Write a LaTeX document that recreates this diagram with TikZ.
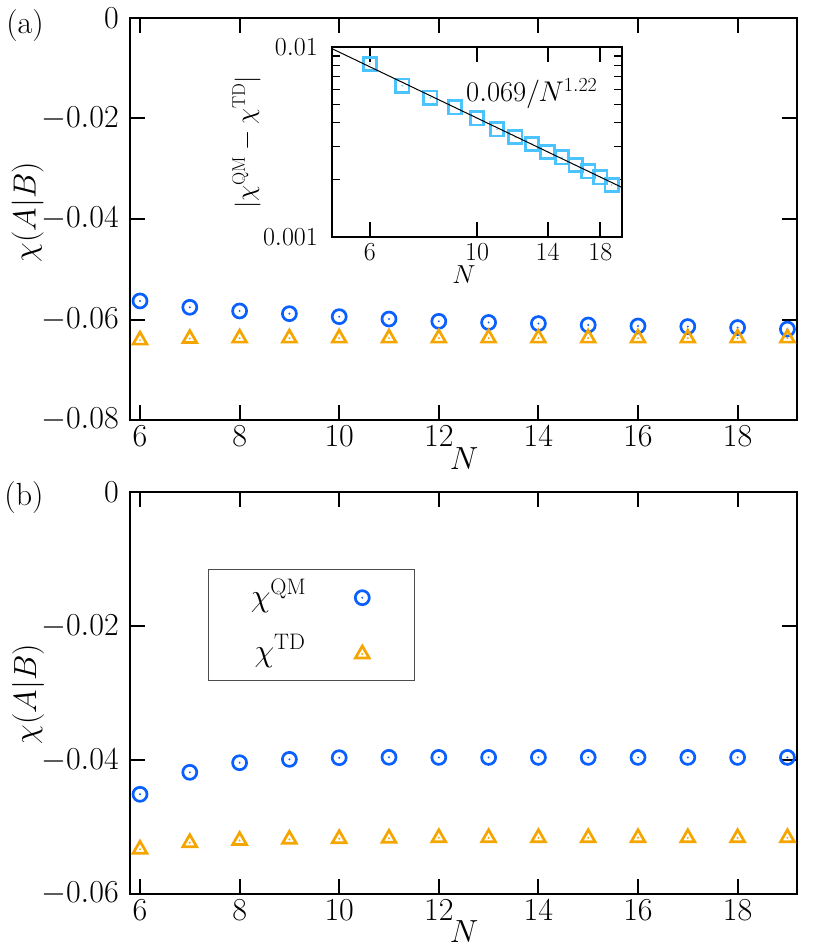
\RequirePackage{fix-cm}
\documentclass[tikz,border=0pt]{standalone}
\definecolor{qmblue}{RGB}{10,95,255}
\definecolor{tdorange}{RGB}{245,165,0}
\definecolor{sqblue}{RGB}{75,195,255}
\begin{document}
\begin{tikzpicture}[x=1pt,y=-1pt,font=\fontsize{32}{38}\selectfont,
  ax/.style={line width=2pt, black},
  tk/.style={line width=2pt, black},
  mtk/.style={line width=1.6pt, black},
  qmm/.style={circle, draw=qmblue, line width=2.7pt, minimum size=14pt, inner sep=0pt},
  sqm/.style={rectangle, draw=sqblue, line width=2.7pt, minimum size=13.5pt, inner sep=0pt},
  tdm/.style={draw=tdorange, line width=2.7pt, line join=miter},
  lab/.style={inner sep=0pt},
  insetfont/.style={font=\fontsize{26}{31}\selectfont}]
\useasboundingbox (0,0) rectangle (830,949);

% ================= panel (a) =================
\draw[ax] (130,18) rectangle (797.3,420);
\foreach \n in {6,8,...,18} {
  \pgfmathsetmacro\xx{140+49.8*(\n-6)}
  \draw[tk] (\xx,420) -- ++(0,-15);
  \draw[tk] (\xx,18) -- ++(0,15);
  \node[lab, anchor=north] (xa\n) at (\xx,426) {$\n$};
}
\foreach \v/\t in {0/0, 1/{-0.02}, 2/{-0.04}, 3/{-0.06}, 4/{-0.08}} {
  \pgfmathsetmacro\yy{18+100.5*\v}
  \draw[tk] (130,\yy) -- ++(15,0);
  \draw[tk] (797.3,\yy) -- ++(-15,0);
  \node[lab, anchor=east] (ya\v) at (119,\yy) {$\t$};
}
\node[lab] (pa) at (25,26) {(a)};
\node[lab, rotate=90] (yla) at (27.5,212) {$\chi(A|B)$};
\node[lab] (xla) at (464,459) {$N$};

\begin{scope}[shift={(-158.8pt,-18pt)}, x=49.8pt, y=5025pt]
  \foreach \n/\v in {6/-0.0563, 7/-0.05757, 8/-0.0583, 9/-0.05884, 10/-0.05943,
     11/-0.0599, 12/-0.06036, 13/-0.0606, 14/-0.0608, 15/-0.0611, 16/-0.0613,
     17/-0.0614, 18/-0.0616, 19/-0.0619} {
    \node[qmm] (qa\n) at (\n,\v) {};
    \fill[qmblue] (qa\n.center) circle (1.1pt);
  }
  \foreach \n/\v in {6/-0.0641, 7/-0.0638, 8/-0.0637, 9/-0.0637, 10/-0.0637,
     11/-0.0637, 12/-0.0637, 13/-0.0637, 14/-0.0637, 15/-0.0637, 16/-0.0637,
     17/-0.0637, 18/-0.0637, 19/-0.0637} {
    \draw[tdm] (\n,\v) ++(0pt,8pt) -- ++(-6.9pt,-12pt) -- ++(13.8pt,0pt) -- cycle;
    \fill[tdorange] (\n,\v) circle (1.1pt);
  }
\end{scope}

% ----- inset -----
\draw[ax, fill=white] (331.7,47.3) rectangle (622.3,236.7);
\begin{scope}[shift={(-5.8pt,331.5pt)}, x=209.7pt, y=189.4pt]
  \foreach \n in {6,10,14,18} {
    \draw[tk] ({ln(\n)},-3) -- ++(0pt,15pt);
    \draw[tk] ({ln(\n)},-2) -- ++(0pt,-15pt);
    \node[lab, insetfont, anchor=north] (xi\n) at ({ln(\n)},-3) [yshift=-6.5pt] {$\n$};
  }
  \foreach \k in {2,...,9} {
    \draw[mtk] ({ln(5)},{log10(\k)-3}) -- ++(8pt,0pt);
    \draw[mtk] ({ln(20)},{log10(\k)-3}) -- ++(-8pt,0pt);
  }
  \foreach \n/\d in {6/0.00797, 7/0.00625, 8/0.00538, 9/0.00478, 10/0.00413,
     11/0.00369, 12/0.00335, 13/0.00308, 14/0.00279, 15/0.00261, 16/0.00236,
     17/0.00218, 18/0.00202, 19/0.00187} {
    \node[sqm] (s\n) at ({ln(\n)},{log10(\d)}) {};
    \fill[sqblue] (s\n.center) circle (0.8pt);
  }
  \coordinate (fitL) at ({ln(5)},{log10(0.069)-1.22*log10(5)});
  \coordinate (fitR) at ({ln(20)},{log10(0.069)-1.22*log10(20)});
  \draw[line width=1pt, black] (fitL) -- (fitR);
\end{scope}
\node[lab, insetfont, anchor=east] (yi1) at (318,47.3) {$0.01$};
\node[lab, insetfont, anchor=east] (yi2) at (318,236.7) {$0.001$};
\node[lab, insetfont] (xli) at (464,275) {$N$};
\node[lab, insetfont, rotate=90] (yli) at (246.5,142.5) {$|\chi^{\rm QM}-\chi^{\rm TD}|$};
\node[lab, font=\fontsize{28.5}{34}\selectfont, anchor=base west] (fit) at (466,102) {$0.069/N^{1.22}$};

% ================= panel (b) =================
\draw[ax] (130,492.3) rectangle (797.3,894);
\foreach \n in {6,8,...,18} {
  \pgfmathsetmacro\xx{140+49.8*(\n-6)}
  \draw[tk] (\xx,894) -- ++(0,-15);
  \draw[tk] (\xx,492.3) -- ++(0,15);
  \node[lab, anchor=north] (xb\n) at (\xx,900) {$\n$};
}
\foreach \v/\t in {0/0, 1/{-0.02}, 2/{-0.04}, 3/{-0.06}} {
  \pgfmathsetmacro\yy{492.3+133.9*\v}
  \draw[tk] (130,\yy) -- ++(15,0);
  \draw[tk] (797.3,\yy) -- ++(-15,0);
  \node[lab, anchor=east] (yb\v) at (119,\yy) {$\t$};
}
\node[lab] (pb) at (24,498) {(b)};
\node[lab, rotate=90] (ylb) at (28,694) {$\chi(A|B)$};
\node[lab] (xlb) at (464,932) {$N$};

\begin{scope}[shift={(-158.8pt,-492.3pt)}, x=49.8pt, y=6695pt]
  \foreach \n/\v in {6/-0.04511, 7/-0.04182, 8/-0.04039, 9/-0.03988, 10/-0.03964,
     11/-0.03958, 12/-0.0396, 13/-0.0396, 14/-0.0396, 15/-0.0396, 16/-0.0396,
     17/-0.0396, 18/-0.0396, 19/-0.0396} {
    \node[qmm] (qb\n) at (\n,\v) {};
    \fill[qmblue] (qb\n.center) circle (1.1pt);
  }
  \foreach \n/\v in {6/-0.05332, 7/-0.05234, 8/-0.0520, 9/-0.05183, 10/-0.05174,
     11/-0.05168, 12/-0.0516, 13/-0.0516, 14/-0.0516, 15/-0.0516, 16/-0.0516,
     17/-0.0516, 18/-0.0516, 19/-0.0516} {
    \draw[tdm] (\n,\v) ++(0pt,8pt) -- ++(-6.9pt,-12pt) -- ++(13.8pt,0pt) -- cycle;
    \fill[tdorange] (\n,\v) circle (1.1pt);
  }
\end{scope}

% legend
\draw[line width=1.2pt, black!70] (208.3,569.3) rectangle (414.3,680.7);
\node[lab, anchor=base] (lqm) at (278.5,606) {$\chi^{\rm QM}$};
\node[lab, anchor=base] (ltd) at (280,661) {$\chi^{\rm TD}$};
\node[qmm] (lqmm) at (362.3,597.7) {};
\fill[qmblue] (lqmm.center) circle (1.1pt);
\coordinate (ltdm) at (362.3,654);
\draw[tdm] (ltdm) ++(0pt,8pt) -- ++(-6.9pt,-12pt) -- ++(13.8pt,0pt) -- cycle;
\fill[tdorange] (ltdm) circle (1.1pt);
\end{tikzpicture}
\end{document}
